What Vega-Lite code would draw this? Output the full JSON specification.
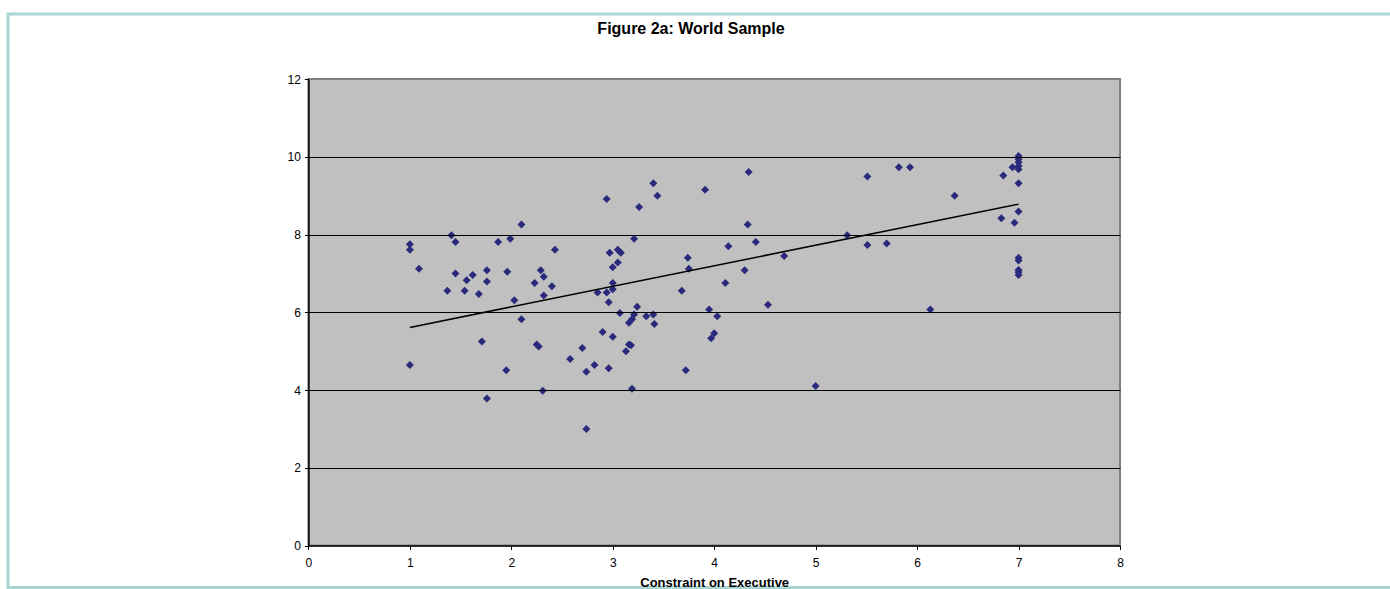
{
  "$schema": "https://vega.github.io/schema/vega-lite/v6.json",
  "width": 1387,
  "height": 573.5,
  "autosize": {"type": "none"},
  "padding": {"left": 8, "top": 14, "right": -5, "bottom": 1.5},
  "background": "white",
  "title": {
    "text": "Figure 2a: World Sample",
    "font": "Liberation Sans",
    "fontSize": 16,
    "fontWeight": "bold",
    "color": "black",
    "anchor": "middle",
    "frame": "group",
    "baseline": "alphabetic",
    "offset": -20,
    "dx": -10.5,
    "dy": 15.5
  },
  "datasets": {
    "points": [
      {"constraint": 1.00, "income": 7.75}, {"constraint": 1.00, "income": 7.61}, {"constraint": 1.00, "income": 4.64},
      {"constraint": 1.09, "income": 7.12}, {"constraint": 1.37, "income": 6.55}, {"constraint": 1.41, "income": 7.98},
      {"constraint": 1.45, "income": 7.81}, {"constraint": 1.45, "income": 7.00}, {"constraint": 1.54, "income": 6.55},
      {"constraint": 1.56, "income": 6.82}, {"constraint": 1.62, "income": 6.96}, {"constraint": 1.68, "income": 6.47},
      {"constraint": 1.71, "income": 5.25}, {"constraint": 1.76, "income": 7.08}, {"constraint": 1.76, "income": 6.79},
      {"constraint": 1.76, "income": 3.78}, {"constraint": 1.87, "income": 7.81}, {"constraint": 1.95, "income": 4.51},
      {"constraint": 1.96, "income": 7.04}, {"constraint": 1.99, "income": 7.89}, {"constraint": 2.03, "income": 6.31},
      {"constraint": 2.10, "income": 8.26}, {"constraint": 2.10, "income": 5.82}, {"constraint": 2.23, "income": 6.75},
      {"constraint": 2.25, "income": 5.17}, {"constraint": 2.27, "income": 5.12}, {"constraint": 2.29, "income": 7.08},
      {"constraint": 2.31, "income": 3.98}, {"constraint": 2.32, "income": 6.91}, {"constraint": 2.32, "income": 6.43},
      {"constraint": 2.40, "income": 6.67}, {"constraint": 2.43, "income": 7.61}, {"constraint": 2.58, "income": 4.80},
      {"constraint": 2.70, "income": 5.08}, {"constraint": 2.74, "income": 4.47}, {"constraint": 2.74, "income": 3.00},
      {"constraint": 2.82, "income": 4.64}, {"constraint": 2.85, "income": 6.51}, {"constraint": 2.90, "income": 5.49},
      {"constraint": 2.94, "income": 8.91}, {"constraint": 2.94, "income": 6.51}, {"constraint": 2.96, "income": 6.26},
      {"constraint": 2.96, "income": 4.56}, {"constraint": 2.97, "income": 7.53}, {"constraint": 3.00, "income": 6.75},
      {"constraint": 3.00, "income": 6.59}, {"constraint": 3.00, "income": 7.16}, {"constraint": 3.00, "income": 5.37},
      {"constraint": 3.05, "income": 7.28}, {"constraint": 3.05, "income": 7.61}, {"constraint": 3.07, "income": 5.98},
      {"constraint": 3.08, "income": 7.53}, {"constraint": 3.13, "income": 5.00}, {"constraint": 3.16, "income": 5.17},
      {"constraint": 3.18, "income": 5.15}, {"constraint": 3.16, "income": 5.73}, {"constraint": 3.19, "income": 5.82},
      {"constraint": 3.21, "income": 5.94}, {"constraint": 3.19, "income": 4.03}, {"constraint": 3.21, "income": 7.89},
      {"constraint": 3.24, "income": 6.14}, {"constraint": 3.26, "income": 8.71}, {"constraint": 3.33, "income": 5.90},
      {"constraint": 3.40, "income": 9.32}, {"constraint": 3.40, "income": 5.94}, {"constraint": 3.41, "income": 5.70},
      {"constraint": 3.44, "income": 9.00}, {"constraint": 3.68, "income": 6.55}, {"constraint": 3.72, "income": 4.51},
      {"constraint": 3.74, "income": 7.40}, {"constraint": 3.75, "income": 7.12}, {"constraint": 3.91, "income": 9.15},
      {"constraint": 3.95, "income": 6.07}, {"constraint": 3.97, "income": 5.33}, {"constraint": 4.00, "income": 5.46},
      {"constraint": 4.03, "income": 5.90}, {"constraint": 4.11, "income": 6.75}, {"constraint": 4.14, "income": 7.70},
      {"constraint": 4.30, "income": 7.08}, {"constraint": 4.33, "income": 8.26}, {"constraint": 4.34, "income": 9.61},
      {"constraint": 4.41, "income": 7.81}, {"constraint": 4.53, "income": 6.19}, {"constraint": 4.69, "income": 7.45},
      {"constraint": 5.00, "income": 4.10}, {"constraint": 5.31, "income": 7.98}, {"constraint": 5.51, "income": 9.49},
      {"constraint": 5.51, "income": 7.73}, {"constraint": 5.70, "income": 7.77}, {"constraint": 5.82, "income": 9.73},
      {"constraint": 5.93, "income": 9.73}, {"constraint": 6.13, "income": 6.07}, {"constraint": 6.37, "income": 9.00},
      {"constraint": 6.85, "income": 9.52}, {"constraint": 6.83, "income": 8.42}, {"constraint": 6.94, "income": 9.73},
      {"constraint": 6.96, "income": 8.30}, {"constraint": 7.00, "income": 10.02}, {"constraint": 7.00, "income": 9.94},
      {"constraint": 7.00, "income": 9.86}, {"constraint": 7.00, "income": 9.76}, {"constraint": 7.00, "income": 9.68},
      {"constraint": 7.00, "income": 9.32}, {"constraint": 7.00, "income": 8.59}, {"constraint": 7.00, "income": 7.40},
      {"constraint": 7.00, "income": 7.33}, {"constraint": 7.00, "income": 7.09}, {"constraint": 7.00, "income": 7.03},
      {"constraint": 7.00, "income": 6.96}
    ],
    "trend": [
      {"constraint": 1, "income": 5.61},
      {"constraint": 7, "income": 8.78}
    ]
  },
  "layer": [
    {
      "data": {"values": [{}]},
      "mark": {"type": "rect", "fill": "#c0c0c0", "stroke": "#808080", "strokeWidth": 2},
      "encoding": {
        "x": {"datum": 0, "type": "quantitative"},
        "x2": {"datum": 8},
        "y": {"datum": 0, "type": "quantitative"},
        "y2": {"datum": 12}
      }
    },
    {
      "data": {"name": "points"},
      "mark": {"type": "point", "shape": "diamond", "filled": true, "color": "#2a2a7c", "size": 64, "opacity": 1},
      "encoding": {
        "x": {
          "field": "constraint",
          "type": "quantitative",
          "scale": {"domain": [0, 8], "range": [300.4, 1112], "nice": false, "zero": false},
          "axis": {
            "title": "Constraint on Executive",
            "values": [0, 1, 2, 3, 4, 5, 6, 7, 8],
            "format": "d",
            "offset": -42,
            "grid": false,
            "zindex": 1,
            "domainColor": "black",
            "domainWidth": 1.5,
            "tickColor": "black",
            "tickSize": 4,
            "tickWidth": 1,
            "labelFont": "Liberation Sans",
            "labelFontSize": 12,
            "labelColor": "black",
            "labelPadding": 8,
            "labelFlush": false,
            "labelOverlap": false,
            "titleFont": "Liberation Sans",
            "titleFontSize": 13,
            "titleFontWeight": "bold",
            "titleColor": "black",
            "titlePadding": 8
          }
        },
        "y": {
          "field": "income",
          "type": "quantitative",
          "scale": {"domain": [0, 12], "range": [531.5, 65], "nice": false, "zero": false},
          "axis": {
            "title": null,
            "values": [0, 2, 4, 6, 8, 10, 12],
            "format": "d",
            "offset": -300.4,
            "grid": true,
            "gridColor": "black",
            "gridWidth": 1,
            "gridOpacity": {"condition": {"test": "datum.value === 12 || datum.value === 0", "value": 0}, "value": 1},
            "zindex": 1,
            "domainColor": "black",
            "domainWidth": 1.5,
            "tickColor": "black",
            "tickSize": 4,
            "tickWidth": 1,
            "labelFont": "Liberation Sans",
            "labelFontSize": 12,
            "labelColor": "black",
            "labelPadding": 4,
            "labelFlush": false,
            "labelOverlap": false
          }
        }
      }
    },
    {
      "data": {"name": "trend"},
      "mark": {"type": "line", "color": "black", "strokeWidth": 1.5},
      "encoding": {
        "x": {"field": "constraint", "type": "quantitative"},
        "y": {"field": "income", "type": "quantitative"}
      }
    }
  ],
  "config": {
    "view": {"fill": "white", "stroke": "#a9d6d2", "strokeWidth": 3}
  }
}
